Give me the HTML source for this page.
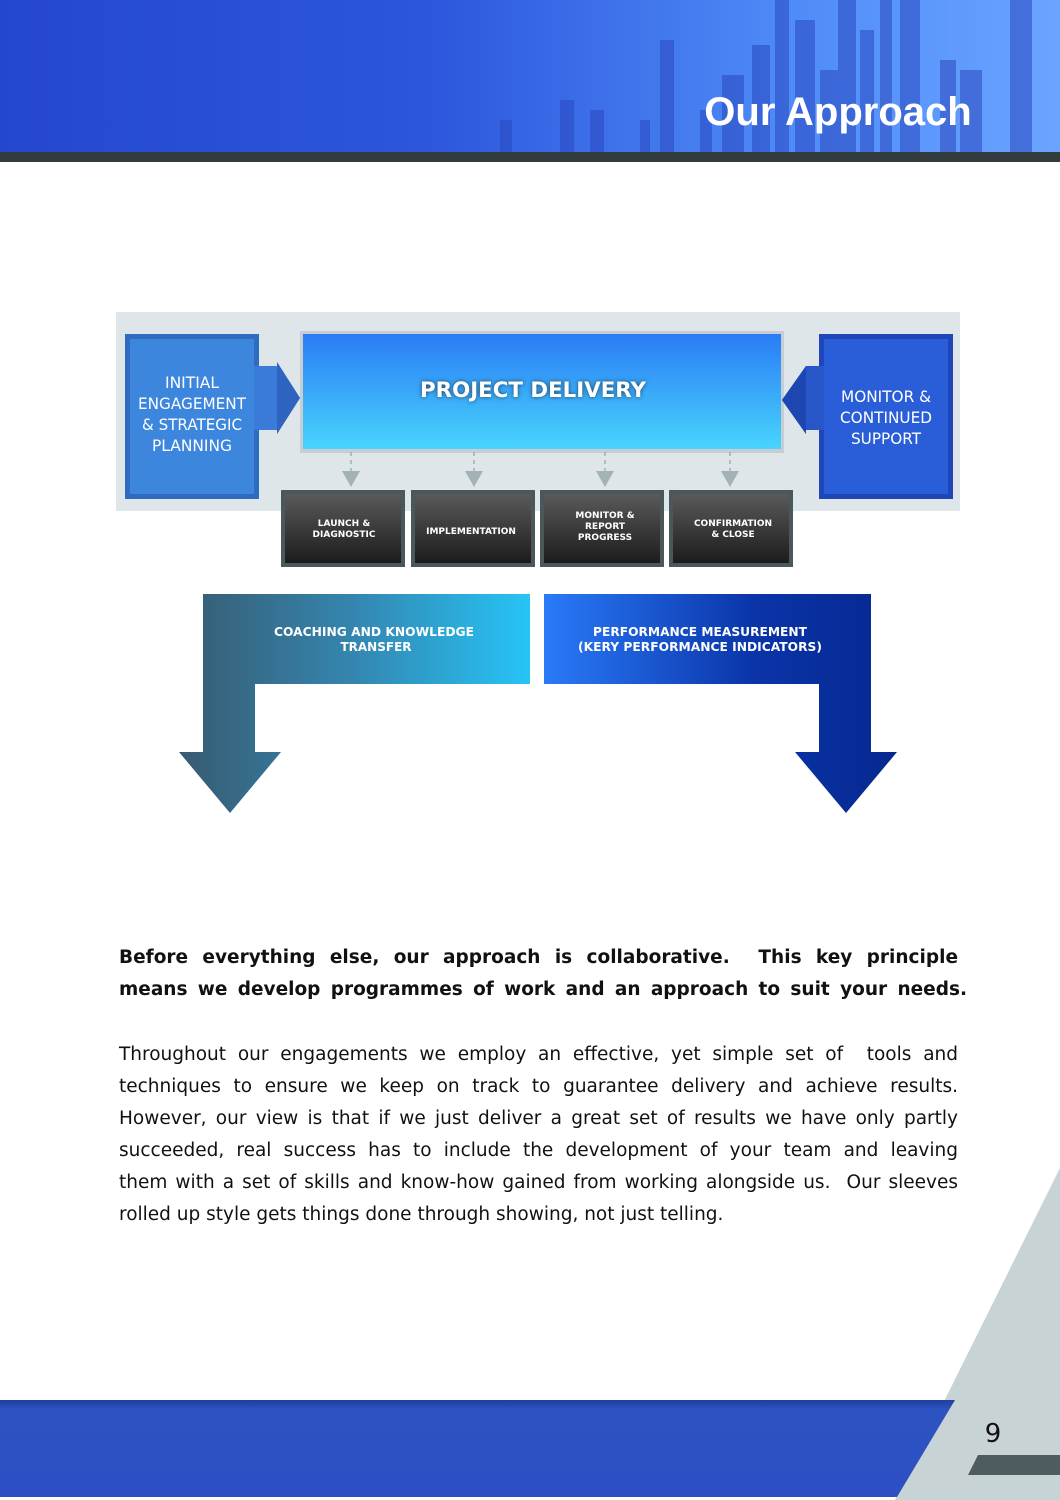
<!DOCTYPE html>
<html><head><meta charset="utf-8"><style>
*{margin:0;padding:0}
body{width:1060px;height:1500px;position:relative;background:#fff;overflow:hidden;font-family:"DejaVu Sans","Liberation Sans",sans-serif}
svg{position:absolute;left:0;top:0}
.l{position:absolute;left:119px;width:839px;font-size:18.5px;line-height:32px;height:32px;color:#111;text-align:justify;text-align-last:justify;white-space:nowrap}
.b{font-weight:bold;font-size:18.5px}
</style></head><body>
<svg width="1060" height="1500" viewBox="0 0 1060 1500">
<defs>
<linearGradient id="hdr" x1="0" x2="1"><stop offset="0" stop-color="#2547d0"/><stop offset="0.4" stop-color="#2c56dc"/><stop offset="0.75" stop-color="#4f8cf8"/><stop offset="1" stop-color="#6aa4ff"/></linearGradient>
<linearGradient id="pd" x1="0" y1="0" x2="0" y2="1"><stop offset="0" stop-color="#2a7cf6"/><stop offset="1" stop-color="#48d4fc"/></linearGradient>
<linearGradient id="dk" x1="0" y1="0" x2="0" y2="1"><stop offset="0" stop-color="#5a5a5a"/><stop offset="1" stop-color="#1c1c1c"/></linearGradient>
<linearGradient id="ga" x1="0" x2="1"><stop offset="0" stop-color="#385a70"/><stop offset="0.5" stop-color="#3486b0"/><stop offset="1" stop-color="#26c4f6"/></linearGradient>
<linearGradient id="gb" x1="0" x2="1"><stop offset="0" stop-color="#2a7af8"/><stop offset="0.6" stop-color="#0a34a8"/><stop offset="1" stop-color="#062890"/></linearGradient>
<linearGradient id="ftr" x1="0" y1="0" x2="0" y2="1"><stop offset="0" stop-color="#1f3e9e"/><stop offset="0.1" stop-color="#2d52c2"/><stop offset="1" stop-color="#2c50c4"/></linearGradient>
</defs>
<rect x="0" y="0" width="1060" height="153" fill="url(#hdr)"/>
<g fill="#2a48c0" opacity="0.55">
<rect x="660" y="40" width="14" height="113"/><rect x="700" y="110" width="12" height="43"/><rect x="722" y="75" width="22" height="78"/>
<rect x="752" y="45" width="18" height="108"/><rect x="775" y="0" width="14" height="153"/><rect x="795" y="20" width="20" height="133"/>
<rect x="820" y="70" width="18" height="83"/><rect x="838" y="0" width="18" height="153"/><rect x="860" y="30" width="14" height="123"/>
<rect x="880" y="0" width="12" height="153"/><rect x="900" y="0" width="20" height="153"/><rect x="940" y="60" width="16" height="93"/>
<rect x="960" y="70" width="22" height="83"/><rect x="1010" y="0" width="22" height="153"/><rect x="560" y="100" width="14" height="53"/>
<rect x="590" y="110" width="14" height="43"/><rect x="640" y="120" width="10" height="33"/><rect x="500" y="120" width="12" height="33"/>
</g>
<rect x="0" y="152" width="1060" height="10" fill="#323c3e"/>
<rect x="116" y="312" width="844" height="199" fill="#dfe6ea"/>
<rect x="125" y="334" width="134" height="165" fill="#2e6cc0"/>
<rect x="130" y="339" width="124" height="155" fill="#3d86de"/>
<polygon points="254,366 277,366 277,362 300,398 277,434 277,430 254,430" fill="#3a7ad8"/>
<polygon points="277,362 300,398 277,434" fill="#2e64c0"/>
<rect x="300" y="331" width="484" height="122" fill="#c6ced4"/>
<rect x="303" y="334" width="478" height="115" fill="url(#pd)"/>
<rect x="819" y="334" width="134" height="165" fill="#1e46b8"/>
<rect x="824" y="339" width="124" height="155" fill="#2a5ed8"/>
<polygon points="824,366 806,366 806,366 782,400 806,434 806,430 824,430" fill="#2656c8"/>
<polygon points="806,366 782,400 806,434" fill="#1c46b0"/>
<g stroke="#9fb0b2" stroke-width="1.5" stroke-dasharray="4,4">
<line x1="351" y1="452" x2="351" y2="472"/><line x1="474" y1="452" x2="474" y2="472"/><line x1="605" y1="452" x2="605" y2="472"/><line x1="730" y1="452" x2="730" y2="472"/>
</g>
<g fill="#a3b3b5">
<polygon points="342,471 360,471 351,487"/><polygon points="465,471 483,471 474,487"/><polygon points="596,471 614,471 605,487"/><polygon points="721,471 739,471 730,487"/>
</g>
<g fill="#4a585c">
<rect x="281" y="490" width="124" height="77"/><rect x="411" y="490" width="124" height="77"/><rect x="540" y="490" width="124" height="77"/><rect x="669" y="490" width="124" height="77"/>
</g>
<g fill="url(#dk)">
<rect x="285" y="494" width="116" height="69"/><rect x="415" y="494" width="116" height="69"/><rect x="544" y="494" width="116" height="69"/><rect x="673" y="494" width="116" height="69"/>
</g>
<polygon points="203,594 530,594 530,684 255,684 255,752 281,752 230,813 179,752 203,752" fill="url(#ga)"/>
<polygon points="544,594 871,594 871,752 897,752 846,813 795,752 819,752 819,684 544,684" fill="url(#gb)"/>
<polygon points="1060,1168 1060,1500 895,1500" fill="#c8d3d6"/>
<polygon points="0,1400 955,1400 897,1497 0,1497" fill="url(#ftr)"/>
<polygon points="978,1455 1060,1455 1060,1475 968,1475" fill="#4e5c60"/>
<text x="838" y="125" font-family="Liberation Sans, sans-serif" fill="#fff" text-anchor="middle" font-size="40" font-weight="bold">Our Approach</text>
<g font-family="DejaVu Sans, sans-serif" fill="#fff" text-anchor="middle">
<g font-size="16">
<text x="192" y="388" textLength="54" lengthAdjust="spacingAndGlyphs">INITIAL</text>
<text x="192" y="409" textLength="108" lengthAdjust="spacingAndGlyphs">ENGAGEMENT</text>
<text x="192" y="430" textLength="100" lengthAdjust="spacingAndGlyphs">&amp; STRATEGIC</text>
<text x="192" y="451" textLength="80" lengthAdjust="spacingAndGlyphs">PLANNING</text>
<text x="886" y="402" textLength="90" lengthAdjust="spacingAndGlyphs">MONITOR &amp;</text>
<text x="886" y="423" textLength="92" lengthAdjust="spacingAndGlyphs">CONTINUED</text>
<text x="886" y="444" textLength="70" lengthAdjust="spacingAndGlyphs">SUPPORT</text>
</g>
<text x="533" y="397" font-size="21" font-weight="bold" textLength="226" lengthAdjust="spacingAndGlyphs" style="text-shadow:0 0 4px #245">PROJECT DELIVERY</text>
<g font-size="9" font-weight="bold">
<text x="344" y="526">LAUNCH &amp;</text><text x="344" y="537">DIAGNOSTIC</text>
<text x="471" y="534">IMPLEMENTATION</text>
<text x="605" y="518">MONITOR &amp;</text><text x="605" y="529">REPORT</text><text x="605" y="540">PROGRESS</text>
<text x="733" y="526">CONFIRMATION</text><text x="733" y="537">&amp; CLOSE</text>
</g>
<g font-size="12" font-weight="bold">
<text x="374" y="636" textLength="200" lengthAdjust="spacingAndGlyphs">COACHING AND KNOWLEDGE</text>
<text x="376" y="651">TRANSFER</text>
<text x="700" y="636" textLength="214" lengthAdjust="spacingAndGlyphs">PERFORMANCE MEASUREMENT</text>
<text x="700" y="651" textLength="244" lengthAdjust="spacingAndGlyphs">(KERY PERFORMANCE INDICATORS)</text>
</g>
</g>
<text x="993" y="1442" font-family="DejaVu Sans, sans-serif" font-size="26" fill="#111" text-anchor="middle">9</text>
</svg>
<div class="l b" style="top:942px;">Before everything else, our approach is collaborative.&nbsp; This key principle</div>
<div class="l b" style="top:974px;width:848px;">means we develop programmes of work and an approach to suit your needs.</div>
<div class="l" style="top:1039px;">Throughout our engagements we employ an effective, yet simple set of&nbsp; tools and</div>
<div class="l" style="top:1071px;">techniques to ensure we keep on track to guarantee delivery and achieve results.</div>
<div class="l" style="top:1103px;">However, our view is that if we just deliver a great set of results we have only partly</div>
<div class="l" style="top:1135px;">succeeded, real success has to include the development of your team and leaving</div>
<div class="l" style="top:1167px;">them with a set of skills and know-how gained from working alongside us.&nbsp; Our sleeves</div>
<div class="l" style="top:1199px;text-align-last:left;">rolled up style gets things done through showing, not just telling.</div>
</body></html>
